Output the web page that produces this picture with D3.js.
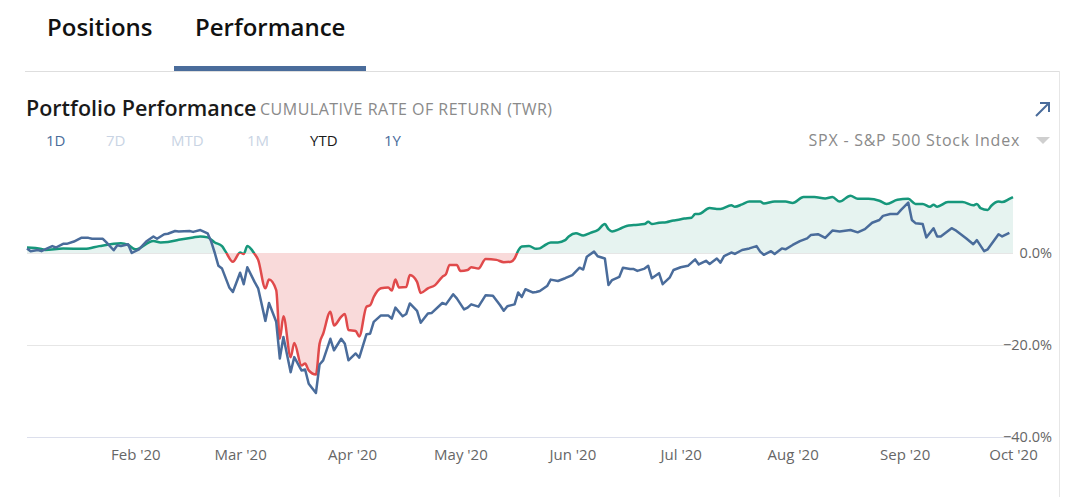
<!DOCTYPE html>
<html><head><meta charset="utf-8">
<script src="https://cdn.jsdelivr.net/npm/d3@7"></script>
<style>
html,body{margin:0;padding:0;background:#fff;}
svg{display:block;font-family:"Open Sans",sans-serif;}
</style></head>
<body><svg id="c" width="1080" height="497"></svg>
<script>
// ---- data ----
const tabs = ["Positions", "Performance"];
const ranges = ["1D", "7D", "MTD", "1M", "YTD", "1Y"];
const yTicks = [0, -20, -40];

const portfolioDates = ["2020-01-02","2020-01-06","2020-01-07","2020-01-12","2020-01-18","2020-01-22","2020-01-28","2020-01-30","2020-02-01","2020-02-06","2020-02-08","2020-02-10","2020-02-13","2020-02-17","2020-02-19","2020-02-21","2020-02-23","2020-02-25","2020-02-26","2020-02-28","2020-03-01","2020-03-02","2020-03-03","2020-03-05","2020-03-06","2020-03-08","2020-03-09","2020-03-11","2020-03-12","2020-03-13","2020-03-15","2020-03-16","2020-03-18","2020-03-19","2020-03-20","2020-03-22","2020-03-23","2020-03-24","2020-03-26","2020-03-27","2020-03-29","2020-03-30","2020-03-31","2020-04-02","2020-04-03","2020-04-05","2020-04-06","2020-04-07","2020-04-09","2020-04-11","2020-04-12","2020-04-13","2020-04-14","2020-04-16","2020-04-17","2020-04-19","2020-04-20","2020-04-22","2020-04-24","2020-04-26","2020-04-27","2020-04-28","2020-04-30","2020-05-01","2020-05-03","2020-05-04","2020-05-06","2020-05-08","2020-05-11","2020-05-13","2020-05-15","2020-05-16","2020-05-17","2020-05-18","2020-05-20","2020-05-22","2020-05-23","2020-05-24","2020-05-26","2020-05-28","2020-05-30","2020-05-31","2020-06-02","2020-06-04","2020-06-06","2020-06-08","2020-06-10","2020-06-11","2020-06-12","2020-06-14","2020-06-16","2020-06-18","2020-06-21","2020-06-22","2020-06-23","2020-06-25","2020-06-27","2020-06-29","2020-06-30","2020-07-02","2020-07-04","2020-07-05","2020-07-06","2020-07-09","2020-07-11","2020-07-12","2020-07-15","2020-07-16","2020-07-18","2020-07-20","2020-07-23","2020-07-24","2020-07-27","2020-07-30","2020-08-01","2020-08-04","2020-08-07","2020-08-10","2020-08-12","2020-08-14","2020-08-17","2020-08-19","2020-08-22","2020-08-25","2020-08-27","2020-08-30","2020-09-02","2020-09-04","2020-09-06","2020-09-08","2020-09-09","2020-09-10","2020-09-13","2020-09-17","2020-09-20","2020-09-21","2020-09-22","2020-09-24","2020-09-25","2020-09-27","2020-09-28","2020-09-30","2020-10-01"];
const portfolioValues = [1.2,0.9,0.65,1.0,0.9,1.5,2.1,1.75,0.8,2.6,2.3,2.4,2.9,3.4,3.6,3.4,2.3,1.5,0.3,-1.9,0.1,-0.2,1.5,-0.2,-1.5,-7.7,-5.8,-8.1,-18.7,-13.8,-22.7,-19.6,-24.5,-24.1,-25.6,-26.5,-19.8,-17.6,-12.8,-15.8,-13.9,-13.3,-16.8,-17.0,-18.2,-11.7,-11.4,-9.6,-7.7,-7.5,-8.2,-5.8,-7.5,-7.4,-4.8,-6.3,-8.7,-7.7,-7.0,-5.2,-4.6,-2.6,-2.6,-3.9,-3.7,-3.1,-3.4,-1.3,-1.5,-2.0,-1.9,-1.2,0.5,1.4,1.5,0.9,1.0,1.5,2.3,2.3,2.8,3.6,4.3,3.8,4.4,5.0,6.3,5.2,4.7,5.2,5.9,6.1,6.3,6.8,6.3,6.6,6.7,7.1,7.2,7.5,7.7,8.5,8.5,9.8,9.6,9.6,10.4,10.1,10.6,11.2,11.2,10.8,11.2,11.2,10.9,12.2,12.2,11.9,12.2,11.2,12.5,11.8,11.8,11.4,10.7,11.6,11.8,10.7,10.7,10.1,10.5,10.1,11.1,11.1,10.4,10.7,9.8,9.4,10.3,11.2,11.1,11.8,12.2];

const spxDates = ["2020-01-02","2020-01-03","2020-01-05","2020-01-06","2020-01-07","2020-01-09","2020-01-10","2020-01-12","2020-01-13","2020-01-15","2020-01-17","2020-01-19","2020-01-20","2020-01-23","2020-01-24","2020-01-26","2020-01-27","2020-01-28","2020-01-30","2020-01-31","2020-02-02","2020-02-04","2020-02-06","2020-02-07","2020-02-09","2020-02-10","2020-02-12","2020-02-13","2020-02-16","2020-02-17","2020-02-19","2020-02-21","2020-02-22","2020-02-23","2020-02-24","2020-02-25","2020-02-27","2020-02-28","2020-03-01","2020-03-02","2020-03-03","2020-03-05","2020-03-06","2020-03-08","2020-03-09","2020-03-11","2020-03-12","2020-03-13","2020-03-15","2020-03-16","2020-03-18","2020-03-19","2020-03-20","2020-03-22","2020-03-23","2020-03-24","2020-03-26","2020-03-27","2020-03-29","2020-03-30","2020-03-31","2020-04-02","2020-04-03","2020-04-05","2020-04-06","2020-04-07","2020-04-09","2020-04-11","2020-04-12","2020-04-13","2020-04-15","2020-04-16","2020-04-17","2020-04-19","2020-04-20","2020-04-22","2020-04-23","2020-04-26","2020-04-27","2020-04-29","2020-04-30","2020-05-02","2020-05-03","2020-05-04","2020-05-06","2020-05-08","2020-05-10","2020-05-12","2020-05-13","2020-05-14","2020-05-16","2020-05-17","2020-05-18","2020-05-19","2020-05-21","2020-05-22","2020-05-23","2020-05-25","2020-05-26","2020-05-28","2020-05-30","2020-06-01","2020-06-03","2020-06-04","2020-06-05","2020-06-07","2020-06-08","2020-06-10","2020-06-11","2020-06-12","2020-06-14","2020-06-15","2020-06-17","2020-06-18","2020-06-19","2020-06-21","2020-06-22","2020-06-23","2020-06-25","2020-06-26","2020-06-28","2020-06-29","2020-07-01","2020-07-03","2020-07-05","2020-07-06","2020-07-08","2020-07-09","2020-07-11","2020-07-12","2020-07-13","2020-07-15","2020-07-16","2020-07-18","2020-07-20","2020-07-22","2020-07-23","2020-07-24","2020-07-26","2020-07-27","2020-07-29","2020-07-30","2020-08-01","2020-08-03","2020-08-05","2020-08-06","2020-08-08","2020-08-10","2020-08-12","2020-08-14","2020-08-17","2020-08-19","2020-08-21","2020-08-23","2020-08-25","2020-08-26","2020-08-28","2020-08-30","2020-08-31","2020-09-02","2020-09-03","2020-09-04","2020-09-06","2020-09-07","2020-09-09","2020-09-10","2020-09-11","2020-09-14","2020-09-15","2020-09-18","2020-09-20","2020-09-21","2020-09-23","2020-09-24","2020-09-27","2020-09-28","2020-09-30"];
const spxValues = [1.0,0.4,0.65,0.4,0.8,1.5,1.2,2.0,2.0,2.5,3.3,3.3,3.1,3.1,2.3,0.6,1.7,1.5,1.9,0.0,0.8,2.5,3.6,3.1,4.1,4.2,4.8,4.7,4.8,4.6,5.0,4.3,2.5,0.0,-2.8,-3.4,-7.5,-8.5,-4.3,-6.8,-3.1,-6.3,-7.7,-14.8,-10.9,-15.0,-23.0,-18.3,-26.0,-22.7,-25.6,-25.4,-28.5,-30.5,-24.3,-23.4,-18.7,-21.2,-18.7,-19.8,-23.4,-21.9,-22.8,-17.7,-17.6,-15.0,-13.6,-13.6,-14.3,-11.9,-13.8,-13.3,-11.0,-12.6,-15.2,-13.2,-13.1,-10.9,-11.2,-9.0,-9.9,-12.3,-11.9,-11.2,-11.7,-9.2,-9.3,-11.4,-12.6,-11.6,-11.2,-8.6,-9.6,-7.9,-8.6,-8.5,-8.3,-7.2,-5.8,-6.1,-5.5,-4.8,-3.2,-3.6,-0.8,0.3,-0.7,-1.2,-7.0,-5.9,-5.2,-3.2,-3.5,-3.5,-3.9,-3.4,-2.8,-5.5,-4.4,-6.8,-5.3,-3.7,-3.1,-2.8,-1.4,-2.5,-1.7,-2.4,-1.2,-2.1,-0.7,0.1,-0.2,0.65,1.0,1.5,0.3,-0.4,0.4,-0.2,1.0,0.8,1.75,2.6,3.2,3.9,4.1,3.3,4.9,4.7,5.0,4.5,5.2,6.6,7.2,8.1,8.5,8.5,9.4,11.0,7.2,6.5,6.3,3.4,5.4,3.6,3.6,5.4,5.0,3.2,1.9,2.8,0.4,0.8,4.1,3.6,4.4];

const benchmarkLabel = "SPX - S&P 500 Stock Index";

// ---- drawing ----
const parse = d3.timeParse("%Y-%m-%d");
const portfolio = portfolioDates.map((d,i)=>({date:parse(d), v:portfolioValues[i]}));
const spx = spxDates.map((d,i)=>({date:parse(d), v:spxValues[i]}));

const svg = d3.select("#c");
const BLUE = "#4a6c9b", GREEN = "#16977b", RED = "#e04a4b";

// header tabs
svg.append("text").attr("x",47).attr("y",36).attr("font-size",24).attr("font-weight",600).attr("fill","#111").text(tabs[0]);
svg.append("text").attr("x",195).attr("y",36).attr("font-size",24).attr("font-weight",600).attr("fill","#111").text(tabs[1]);
svg.append("line").attr("x1",25).attr("x2",1059).attr("y1",71.5).attr("y2",71.5).attr("stroke","#dedede");
svg.append("line").attr("x1",1059.5).attr("x2",1059.5).attr("y1",71).attr("y2",497).attr("stroke","#e6e6e6");
svg.append("rect").attr("x",174).attr("y",66).attr("width",192).attr("height",5).attr("fill",BLUE);

// title
svg.append("text").attr("x",26).attr("y",116).attr("font-size",21.5).attr("font-weight",600).attr("fill","#1a1a1a")
  .text("Portfolio Performance");
svg.append("text").attr("x",260).attr("y",115).attr("font-size",16).attr("letter-spacing",0.5).attr("fill","#8a8a8a")
  .text("CUMULATIVE RATE OF RETURN (TWR)");

// expand arrow
svg.append("path").attr("d","M1036,116 L1049,103 M1040,103 L1049,103 L1049,112")
  .attr("fill","none").attr("stroke",BLUE).attr("stroke-width",2);

// range buttons
const rangeX = [46,106,171,247,310,384];
const rangeColor = [BLUE,"#c9d4e4","#c9d4e4","#c9d4e4","#1a1a1a",BLUE];
ranges.forEach((r,i)=>{
  svg.append("text").attr("x",rangeX[i]).attr("y",146).attr("font-size",15).attr("fill",rangeColor[i]).text(r);
});
svg.append("text").attr("x",1020).attr("y",146).attr("text-anchor","end").attr("font-size",16).attr("letter-spacing",0.75).attr("fill","#8a8a8a").text(benchmarkLabel);
svg.append("path").attr("d","M1036,137 L1050,137 L1043,144 Z").attr("fill","#cfcfcf");

// scales
const x = d3.scaleTime().domain([parse("2020-01-02"), parse("2020-10-01")]).range([27,1013]);
const y = d3.scaleLinear().domain([-40,0]).range([436.5,253]);

// gridlines
const grid = svg.append("g");
yTicks.forEach(v=>{
  grid.append("line").attr("x1",27).attr("x2",1013).attr("y1",Math.round(y(v))+0.5).attr("y2",Math.round(y(v))+0.5)
    .attr("stroke", v===-40 ? "#dcdfec" : "#e6e6e6").attr("stroke-width",1.2);
});

// y axis labels
const yAxis = d3.axisRight(y).tickValues(yTicks).tickSize(0).tickFormat(d=>d3.format(".1f")(d)+"%");
const ya = svg.append("g").attr("transform","translate(1052,0)").call(yAxis);
ya.select(".domain").remove();
ya.selectAll("text").attr("x",0).attr("text-anchor","end").attr("font-size",14.5).attr("fill","#666").attr("font-family","Open Sans");

// x axis
const xAxis = d3.axisBottom(x).ticks(d3.timeMonth.every(1)).tickSize(0).tickFormat(d3.timeFormat("%b '%y"));
const xa = svg.append("g").attr("transform","translate(0,446)").call(xAxis);
xa.select(".domain").remove();
xa.selectAll(".tick").filter(d=>d.getMonth()===0).remove();
xa.selectAll("text").attr("font-size",15).attr("fill","#666").attr("font-family","Open Sans");

// clip paths
const defs = svg.append("defs");
defs.append("clipPath").attr("id","above").append("rect").attr("x",0).attr("y",0).attr("width",1080).attr("height",y(0));
defs.append("clipPath").attr("id","below").append("rect").attr("x",0).attr("y",y(0)).attr("width",1080).attr("height",497-y(0));

const area = d3.area().x(d=>x(d.date)).y0(y(0)).y1(d=>y(d.v)).curve(d3.curveMonotoneX);
const linePf = d3.line().x(d=>x(d.date)).y(d=>y(d.v)).curve(d3.curveMonotoneX);
const lineSpx = d3.line().x(d=>x(d.date)).y(d=>y(d.v));

svg.append("path").datum(portfolio).attr("d",area).attr("fill","#e6f3f0").attr("clip-path","url(#above)");
svg.append("path").datum(portfolio).attr("d",area).attr("fill","#f9dada").attr("clip-path","url(#below)");
svg.append("path").datum(portfolio).attr("d",linePf).attr("fill","none").attr("stroke",GREEN).attr("stroke-width",2.5).attr("stroke-linejoin","round").attr("clip-path","url(#above)");
svg.append("path").datum(portfolio).attr("d",linePf).attr("fill","none").attr("stroke",RED).attr("stroke-width",2.5).attr("stroke-linejoin","round").attr("clip-path","url(#below)");
svg.append("path").datum(spx).attr("d",lineSpx).attr("fill","none").attr("stroke",BLUE).attr("stroke-width",2.5).attr("stroke-linejoin","round");
</script></body></html>
